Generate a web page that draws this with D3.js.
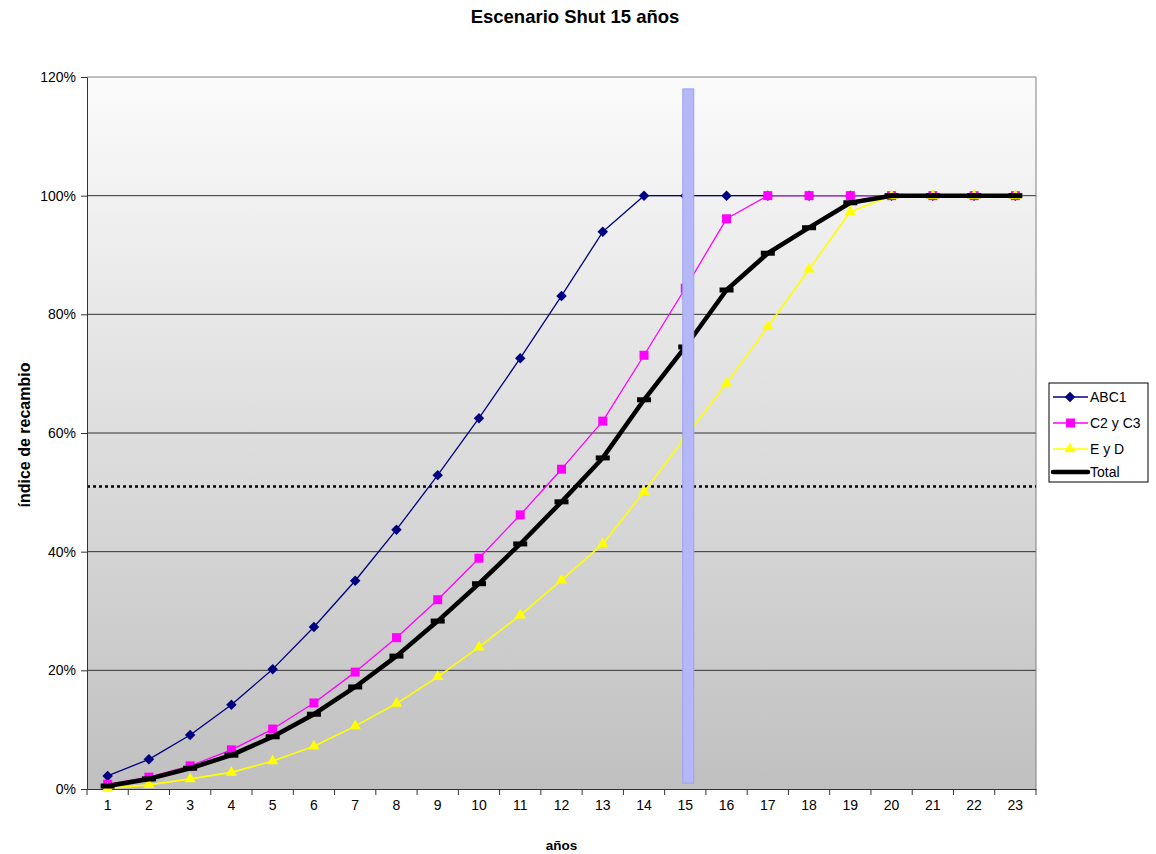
<!DOCTYPE html>
<html><head><meta charset="utf-8">
<script src="https://cdn.jsdelivr.net/npm/d3@7"></script>
<style>body{margin:0;background:#fff;font-family:"Liberation Sans",Arial,sans-serif;}</style>
</head><body><svg id="c" width="1156" height="854"></svg>
<script>
const years = d3.range(1, 24).map(String);
const abc1 = [2.2,5.0,9.1,14.2,20.2,27.3,35.1,43.7,52.9,62.5,72.6,83.1,93.9,100,100,100,100,100,100,100,100,100,100];
const c2c3 = [0.8,2.0,3.9,6.6,10.1,14.5,19.7,25.5,31.9,38.9,46.2,53.9,62.0,73.1,84.4,96.1,100,100,100,100,100,100,100];
const eyd  = [0.1,0.7,1.7,2.8,4.7,7.2,10.6,14.4,18.9,23.9,29.3,35.2,41.3,50.1,59.3,68.4,77.9,87.6,97.3,100,100,100,100];
const total= [0.5,1.7,3.5,5.7,8.8,12.6,17.2,22.4,28.3,34.6,41.3,48.4,55.8,65.6,74.5,84.1,90.3,94.6,98.8,100,100,100,100];
const yTicks = [0,20,40,60,80,100,120];
const threshold = 51;
const shutYear = "15";
const barRange = [1, 118];
const seriesNames = ["ABC1","C2 y C3","E y D","Total"];

const svg = d3.select("#c");
const L=87, R=1036, T=77, B=789;
const x = d3.scaleBand().domain(years).range([L,R]);
const y = d3.scaleLinear().domain([0,120]).range([B,T]);
const cx = d => x(d)+x.bandwidth()/2;

const defs = svg.append("defs");
const g = defs.append("linearGradient").attr("id","bg").attr("x1",0).attr("x2",0).attr("y1",0).attr("y2",1);
g.append("stop").attr("offset","0%").attr("stop-color","#fbfbfb");
g.append("stop").attr("offset","100%").attr("stop-color","#c0c0c0");

svg.append("rect").attr("x",L).attr("y",T).attr("width",R-L).attr("height",B-T).attr("fill","url(#bg)");

// gridlines
svg.append("g").selectAll("line").data(yTicks.filter(v=>v>0)).join("line")
  .attr("x1",L).attr("x2",R).attr("y1",d=>y(d)).attr("y2",d=>y(d))
  .attr("stroke",d=>d===120?"#808080":"#333").attr("stroke-width",1);
// right border
svg.append("line").attr("x1",R).attr("x2",R).attr("y1",T).attr("y2",B).attr("stroke","#808080");

// threshold dotted
svg.append("line").attr("x1",L).attr("x2",R).attr("y1",y(threshold)).attr("y2",y(threshold))
  .attr("stroke","#000").attr("stroke-width",2.5).attr("stroke-dasharray","3,3");

// axes
const yAxis = d3.axisLeft(y).tickValues(yTicks).tickFormat(d=>d+"%").tickSize(6).tickSizeOuter(0);
const ya = svg.append("g").attr("transform",`translate(${L},0)`).call(yAxis);
ya.select(".domain").attr("stroke","#333");
ya.selectAll(".tick line").attr("stroke","#333");
ya.selectAll("text").attr("font-size",14).attr("font-family","Liberation Sans, Arial").attr("fill","#000").attr("dx",-2);

const xAxis = d3.axisBottom(x).tickSize(0).tickSizeOuter(0);
const xa = svg.append("g").attr("transform",`translate(0,${B})`).call(xAxis);
xa.select(".domain").attr("stroke","#333");
xa.selectAll("text").attr("font-size",14).attr("font-family","Liberation Sans, Arial").attr("fill","#000").attr("dy","1.25em");
svg.append("g").selectAll("line").data(years.concat(["end"])).join("line")
  .attr("x1",d=>d==="end"?R:x(d)).attr("x2",d=>d==="end"?R:x(d)).attr("y1",B).attr("y2",B+6).attr("stroke","#333");

const line = d3.line().x((d,i)=>cx(years[i])).y(d=>y(d));

function drawSeries(data,color,w){
  svg.append("path").datum(data).attr("d",line).attr("fill","none").attr("stroke",color).attr("stroke-width",w).attr("stroke-linejoin","round");
}
drawSeries(abc1,"#000080",1.3);
svg.append("g").selectAll("path").data(abc1).join("path")
  .attr("d",d3.symbol(d3.symbolDiamond2,70)).attr("fill","#000080")
  .attr("transform",(d,i)=>`translate(${cx(years[i])},${y(d)})`);
drawSeries(c2c3,"#ff00ff",1.3);
svg.append("g").selectAll("rect").data(c2c3).join("rect")
  .attr("x",(d,i)=>cx(years[i])-4.5).attr("y",d=>y(d)-4.5).attr("width",9).attr("height",9).attr("fill","#ff00ff");
drawSeries(eyd,"#ffff00",1.6);
svg.append("g").selectAll("path").data(eyd).join("path")
  .attr("d",d3.symbol(d3.symbolTriangle,55)).attr("fill","#ffff00")
  .attr("transform",(d,i)=>`translate(${cx(years[i])},${y(d)})`);
drawSeries(total,"#000",4.5);
svg.append("g").selectAll("rect").data(total).join("rect")
  .attr("x",(d,i)=>cx(years[i])-7).attr("y",d=>y(d)-2.5).attr("width",14).attr("height",5).attr("fill","#000");

// shut bar
svg.append("rect").attr("x",cx(shutYear)-2.5).attr("width",11)
  .attr("y",y(barRange[1])).attr("height",y(barRange[0])-y(barRange[1]))
  .attr("fill","#b4b8f6").attr("stroke","#9ca2ee").attr("stroke-width",1);

// titles
svg.append("text").attr("x",575).attr("y",23).attr("text-anchor","middle").attr("font-size",18.5).attr("font-weight","bold").text("Escenario Shut 15 años");
svg.append("text").attr("x",(L+R)/2).attr("y",850).attr("text-anchor","middle").attr("font-size",13.5).attr("font-weight","bold").text("años");
svg.append("text").attr("transform",`translate(30,435) rotate(-90)`).attr("text-anchor","middle").attr("font-size",16).attr("font-weight","bold").text("índice de recambio");

// legend
const lg = svg.append("g");
lg.append("rect").attr("x",1049).attr("y",383).attr("width",99).attr("height",99).attr("fill","#fff").attr("stroke","#000");
const ly = [397,423,449,472];
const lcol = ["#000080","#ff00ff","#ffff00","#000"];
seriesNames.forEach((n,i)=>{
  const yy = ly[i];
  lg.append("line").attr("x1",1053).attr("x2",1088).attr("y1",yy).attr("y2",yy).attr("stroke",lcol[i]).attr("stroke-width",i===3?4.5:1.3).attr("stroke-linecap",i===3?"round":"butt");
  if(i===0) lg.append("path").attr("d",d3.symbol(d3.symbolDiamond2,70)).attr("fill",lcol[i]).attr("transform",`translate(1070,${yy})`);
  if(i===1) lg.append("rect").attr("x",1066).attr("y",yy-4.5).attr("width",9).attr("height",9).attr("fill",lcol[i]);
  if(i===2) lg.append("path").attr("d",d3.symbol(d3.symbolTriangle,55)).attr("fill",lcol[i]).attr("transform",`translate(1070,${yy})`);
  lg.append("text").attr("x",1090).attr("y",yy+5).attr("font-size",14).text(n);
});
</script></body></html>
